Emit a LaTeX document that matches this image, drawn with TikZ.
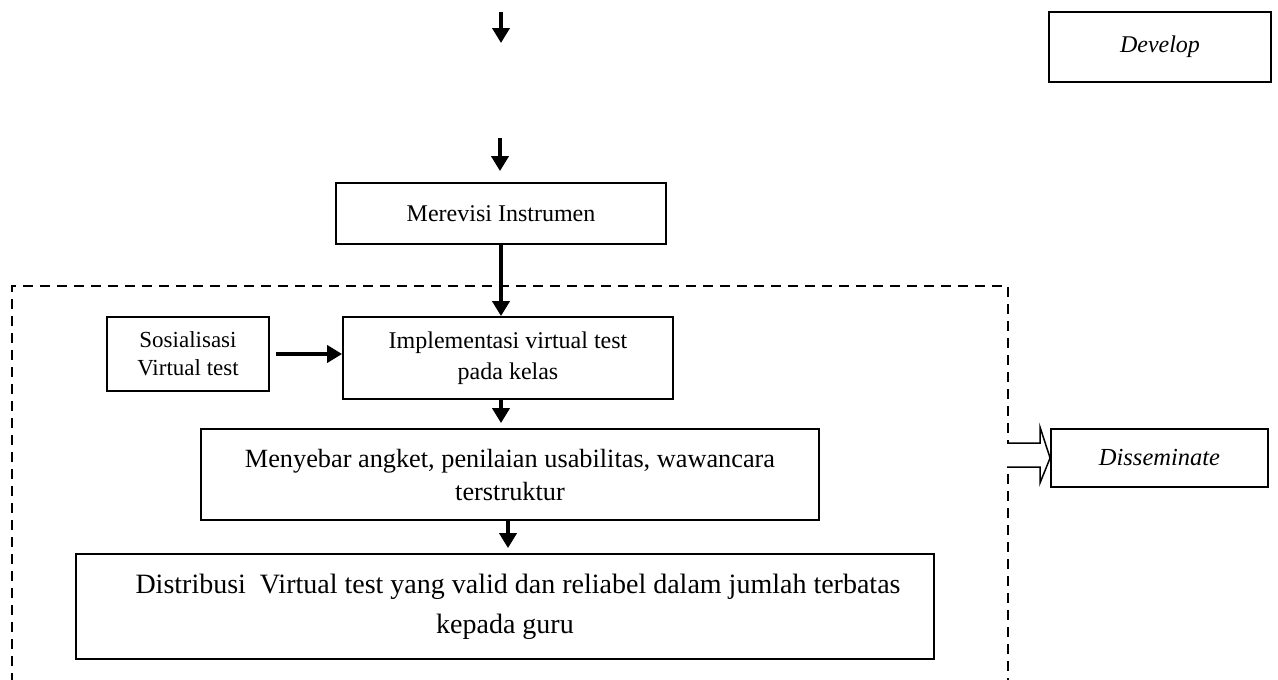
\documentclass[tikz,border=0pt]{standalone}
\usepackage{fontspec}
\setmainfont{Liberation Serif}
\usetikzlibrary{arrows.meta}
\tikzset{
  box/.style={draw, line width=1.8pt, align=center, inner sep=0pt, font=\fontsize{23.5}{30}\selectfont},
  flow/.style={line width=4.2pt, -{Triangle[length=15pt,width=17pt]}},
  dashbox/.style={line width=2.4pt, dash pattern=on 10pt off 7pt},
  hollow/.style={draw, line width=1.5pt, fill=white},
}
\begin{document}
\begin{tikzpicture}[x=1pt,y=-1pt]
\useasboundingbox (0,0) rectangle (1278,680);
\clip (0,0) rectangle (1278,680);
% nodes
\node[box, minimum width=222pt, minimum height=70pt, font=\fontsize{24}{30}\selectfont\itshape] (develop) at (1160,47) {Develop};
\node[box, minimum width=330pt, minimum height=61pt, font=\fontsize{24}{30}\selectfont] (merevisi) at (501,213.5) {Merevisi Instrumen};
\node[box, minimum width=162pt, minimum height=74pt, font=\fontsize{23}{28}\selectfont] (sos) at (188,354) {Sosialisasi\\Virtual test};
\node[box, minimum width=330pt, minimum height=82pt, font=\fontsize{24}{31}\selectfont] (impl) at (508,358) {Implementasi virtual test\\pada kelas};
\node[box, minimum width=618pt, minimum height=91pt, font=\fontsize{26.3}{33}\selectfont] (meny) at (510,474.5) {Menyebar angket, penilaian usabilitas, wawancara\\terstruktur};
\node[box, minimum width=858pt, minimum height=105pt, font=\fontsize{28}{40}\selectfont] (dist) at (505,606.5) {\hspace*{26pt}Distribusi~ Virtual test yang valid dan reliabel dalam jumlah terbatas\\kepada guru};
\node[box, minimum width=217pt, minimum height=58pt, font=\fontsize{24.5}{30}\selectfont\itshape] (diss) at (1159.5,458) {Disseminate};
% dashed frame
\coordinate (fbl) at (12,700);
\coordinate (ftl) at (12,286);
\coordinate (ftr) at (1008,286);
\coordinate (fbr) at (1008,700);
\draw[dashbox] (fbl) -- (ftl) -- (ftr) -- (fbr);
% free arrows at top
\coordinate (t1) at (501,12);
\coordinate (t1e) at (501,43);
\draw[flow] (t1) -- (t1e);
\coordinate (t2) at (500,138);
\draw[flow, shorten >=11pt] (t2) -- (t2 |- merevisi.north);
% connectors
\draw[flow] (merevisi.south) -- (merevisi.south |- impl.north);
\draw[flow, shorten <=6pt] (sos.east) -- (sos.east -| impl.west);
\draw[flow, shorten >=5pt] (501,399) coordinate (i1) -- (i1 |- meny.north);
\draw[flow, shorten >=5pt] (508,520) coordinate (m1) -- (m1 |- dist.north);
% hollow arrow from frame to Disseminate
\draw[hollow] (1007,443) -- (1040,443) -- (1040,427) -- (diss.west) -- (1040,483) -- (1040,467) -- (1007,467);
\end{tikzpicture}
\end{document}
